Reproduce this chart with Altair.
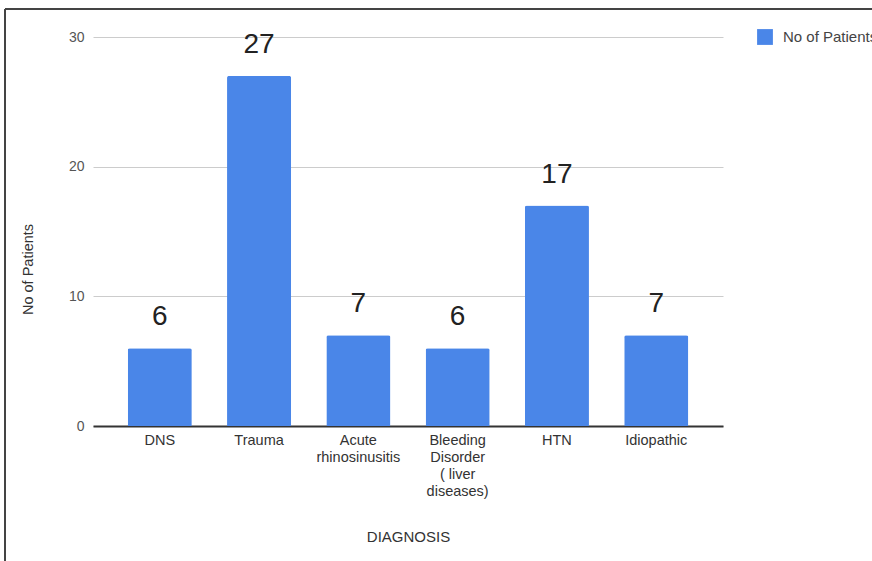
import altair as alt
import pandas as pd

categories = ["DNS", "Trauma", "Acute\nrhinosinusitis", "Bleeding\nDisorder\n( liver\ndiseases)", "HTN", "Idiopathic"]
patients = [6, 27, 7, 6, 17, 7]
series_name = "No of Patients"
y_ticks = [0, 10, 20, 30]

df = pd.DataFrame({"Diagnosis": categories, "Patients": patients, "Series": [series_name] * len(categories)})

FONT = "Liberation Sans"
PLOT_W, PLOT_H = 630, 389
PAD_L, PAD_T = 93, 37

base = alt.Chart(df)

bars = base.mark_bar(cornerRadiusTopLeft=2, cornerRadiusTopRight=2).encode(
    x=alt.X("Diagnosis:N", sort=categories,
            scale=alt.Scale(paddingInner=0.355, paddingOuter=0.35),
            axis=alt.Axis(title="DIAGNOSIS", labelAngle=0, labelExpr="split(datum.label, '\\n')",
                          labelFont=FONT, labelFontSize=14.5, labelColor="#333", labelLineHeight=17,
                          labelPadding=7, ticks=False, grid=False, domainColor="#333", domainWidth=2,
                          titleFont=FONT, titleFontSize=15, titleFontWeight="normal", titleColor="#333",
                          titleY=103, titleBaseline="top")),
    y=alt.Y("Patients:Q", scale=alt.Scale(domain=[0, 30]),
            axis=alt.Axis(title="No of Patients", values=y_ticks, domain=False, ticks=False,
                          labelFont=FONT, labelFontSize=14, labelColor="#555", labelPadding=9,
                          gridColor="#cccccc", gridWidth=1,
                          titleFont=FONT, titleFontSize=14.5, titleFontWeight="normal", titleColor="#333",
                          titleX=-65, titleY=232, titleAngle=-90, titleBaseline="middle", titleAlign="center")),
    color=alt.Color("Series:N", scale=alt.Scale(range=["#4a86e8"]),
                    legend=alt.Legend(title=None, orient="none", legendX=664, legendY=-8,
                                      symbolType="square", symbolSize=250, symbolStrokeWidth=0,
                                      labelFont=FONT, labelFontSize=15, labelColor="#444", labelOffset=10)),
)

labels = base.mark_text(font=FONT, fontSize=28, color="#222", baseline="alphabetic", dy=-23).encode(
    x=alt.X("Diagnosis:N", sort=categories),
    y=alt.Y("Patients:Q"),
    text=alt.Text("Patients:Q"),
)

frame_df = pd.DataFrame({"k": [0]})
left_border = alt.Chart(frame_df).mark_rule(color="#444", strokeWidth=2).encode(
    x=alt.value(-88), y=alt.value(-28), y2=alt.value(561 - PAD_T + 5))
top_border = alt.Chart(frame_df).mark_rule(color="#444", strokeWidth=2).encode(
    x=alt.value(-88), x2=alt.value(872 - PAD_L + 5), y=alt.value(-28))

chart = alt.layer(bars, labels, left_border, top_border).properties(
    width=PLOT_W, height=PLOT_H,
    background="white",
    autosize=alt.AutoSizeParams(type="none"),
    padding={"left": PAD_L, "top": PAD_T, "right": 872 - PAD_L - PLOT_W, "bottom": 561 - PAD_T - PLOT_H},
).configure_view(stroke=None)

chart.save("out.html", embed_options={"renderer": "svg", "actions": False})
